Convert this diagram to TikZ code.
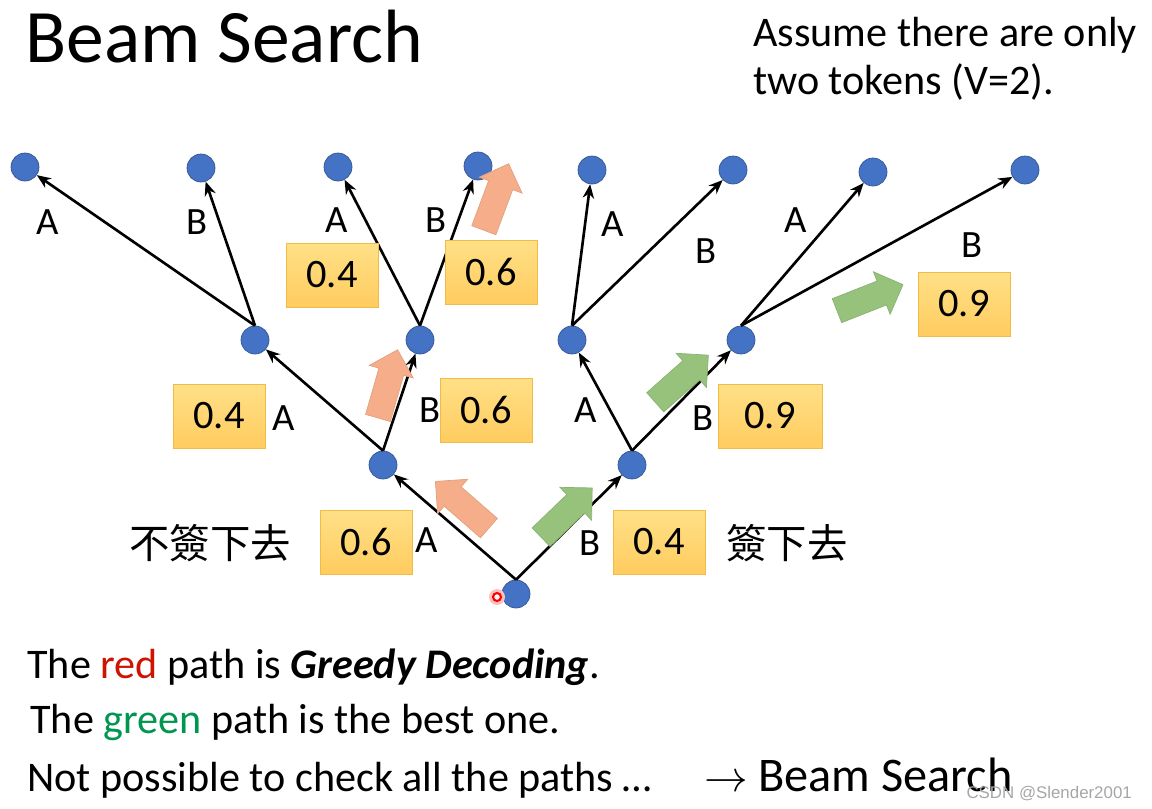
\documentclass[tikz,border=0pt]{standalone}
\usepackage{fontspec}
\setmainfont{Carlito}
\newfontfamily\cjkfont{Noto Sans CJK TC}
\newfontfamily\markfont{Liberation Sans}
\usetikzlibrary{shapes.arrows,arrows.meta}
\definecolor{nodeBlue}{RGB}{68,114,196}
\definecolor{boxTop}{RGB}{255,224,135}
\definecolor{boxBottom}{RGB}{255,204,95}
\definecolor{boxEdge}{RGB}{240,188,70}
\definecolor{redFat}{RGB}{246,174,138}
\definecolor{greenFat}{RGB}{150,194,124}
\definecolor{redText}{RGB}{204,20,0}
\definecolor{greenText}{RGB}{0,150,80}

\begin{document}
\begin{tikzpicture}[x=0.02cm, y=-0.02cm,
    dot/.style={circle, fill=nodeBlue, draw=nodeBlue!75!black, minimum size=0.56cm, inner sep=0pt},
    edge/.style={-{Stealth[length=8pt,width=6.5pt]}, line width=1.5pt},
    tok/.style={font=\fontsize{22}{26}\selectfont},
    prob/.style={draw=boxEdge, top color=boxTop, bottom color=boxBottom, minimum width=1.84cm, minimum height=1.28cm, inner sep=0pt, font=\fontsize{23}{27}\selectfont},
    fat/.style={single arrow, inner xsep=0pt, inner ysep=0.25cm, single arrow head extend=0.2cm, minimum height=1.42cm},
    redfat/.style={fat, fill=redFat, draw=redFat!92!black},
    greenfat/.style={fat, fill=greenFat, draw=greenFat!92!black},
    body/.style={font=\fontsize{24}{29}\selectfont, inner xsep=0pt}]
\useasboundingbox (0,0) rectangle (1152,808);

% title and note
\node[anchor=base west, inner xsep=0pt, font=\fontsize{43}{52}\selectfont] (title) at (25,62) {Beam Search};
\node[anchor=base west, body] (note1) at (753,46) {Assume there are only};
\node[anchor=base west, body] (note2) at (753,94) {two tokens (V=2).};

% tree nodes
\node[dot] (r) at (516,594) {};
\node[dot] (a) at (383,465) {};
\node[dot] (b) at (632,465) {};
\node[dot] (aa) at (255,340) {};
\node[dot] (ab) at (420,340) {};
\node[dot] (ba) at (572,340) {};
\node[dot] (bb) at (741,340) {};
\node[dot] (aaa) at (25,167) {};
\node[dot] (aab) at (201,168) {};
\node[dot] (aba) at (338,167) {};
\node[dot] (abb) at (478,166) {};
\node[dot] (baa) at (592,170) {};
\node[dot] (bab) at (733,170) {};
\node[dot] (bba) at (873,172) {};
\node[dot] (bbb) at (1025,170) {};

% edges
\draw[edge] (r.north) -- (a);
\draw[edge] (r.north) -- (b);
\draw[edge] (a.north) -- (aa);
\draw[edge] (a.north) -- (ab);
\draw[edge] (b.north) -- (ba);
\draw[edge] (b.north) -- (bb);
\draw[edge] (aa.north) -- (aaa);
\draw[edge] (aa.north) -- (aab);
\draw[edge] (ab.north) -- (aba);
\draw[edge] (ab.north) -- (abb);
\draw[edge] (ba.north) -- (baa);
\draw[edge] (ba.north) -- (bab);
\draw[edge] (bb.north) -- (bba);
\draw[edge] (bb.north) -- (bbb);

% token labels
\node[tok] (tA) at (427,540) {A};
\node[tok] (tB) at (590,543) {B};
\node[tok] (taA) at (284,418) {A};
\node[tok] (taB) at (430,410) {B};
\node[tok] (tbA) at (586,410) {A};
\node[tok] (tbB) at (703,418) {B};
\node[tok] (taaA) at (48,222) {A};
\node[tok] (taaB) at (197,222) {B};
\node[tok] (tabA) at (337,220) {A};
\node[tok] (tabB) at (436,220) {B};
\node[tok] (tbaA) at (613,224) {A};
\node[tok] (tbaB) at (706,251) {B};
\node[tok] (tbbA) at (796,220) {A};
\node[tok] (tbbB) at (972,245) {B};

% probabilities
\node[prob] (pA) at (366,542) {0.6};
\node[prob] (pB) at (659,542) {0.4};
\node[prob] (paA) at (219,416) {0.4};
\node[prob] (paB) at (486,410) {0.6};
\node[prob, minimum width=2.08cm] (pbB) at (770,416) {0.9};
\node[prob] (pabA) at (332,275) {0.4};
\node[prob] (pabB) at (491,272) {0.6};
\node[prob] (pbbB) at (964,304) {0.9};

% side remarks
\node[font=\cjkfont\fontsize{23}{27}\selectfont] (stop) at (210,543) {不簽下去};
\node[font=\cjkfont\fontsize{23}{27}\selectfont] (go) at (787,543) {簽下去};

% fat arrows
\node[redfat, rotate=138.9] (red1) at (467,509) {};
\node[redfat, rotate=73.9] (red2) at (386,390) {};
\node[redfat, rotate=69.5] (red3) at (494,203) {};
\node[greenfat, rotate=43.9] (green1) at (562,517) {};
\node[greenfat, rotate=41.6] (green2) at (677,383) {};
\node[greenfat, rotate=21.5] (green3) at (864,300) {};

% pointer
\fill[red!25] (497,597) circle (8);
\draw[red, fill=white, line width=1.2pt] (497,597) circle (4);

% conclusions
\node[anchor=base west, body] (line1) at (27,678) {The \textcolor{redText}{red} path is \textbf{\textit{Greedy Decoding}}.};
\node[anchor=base west, body] (line2) at (30,733) {The \textcolor{greenText}{green} path is the best one.};
\node[anchor=base west, body] (line3) at (27,791) {Not possible to check all the paths …};
\node[anchor=base west, body] (to) at (704,791) {$\rightarrow$};
\node[anchor=base west, inner xsep=0pt, font=\fontsize{27.5}{33}\selectfont] (beam) at (758,791) {Beam Search};
\node[anchor=base east, font=\markfont\fontsize{9.6}{11}\selectfont, text=gray!70] (mark) at (1138,798) {CSDN @Slender2001};
\end{tikzpicture}
\end{document}
